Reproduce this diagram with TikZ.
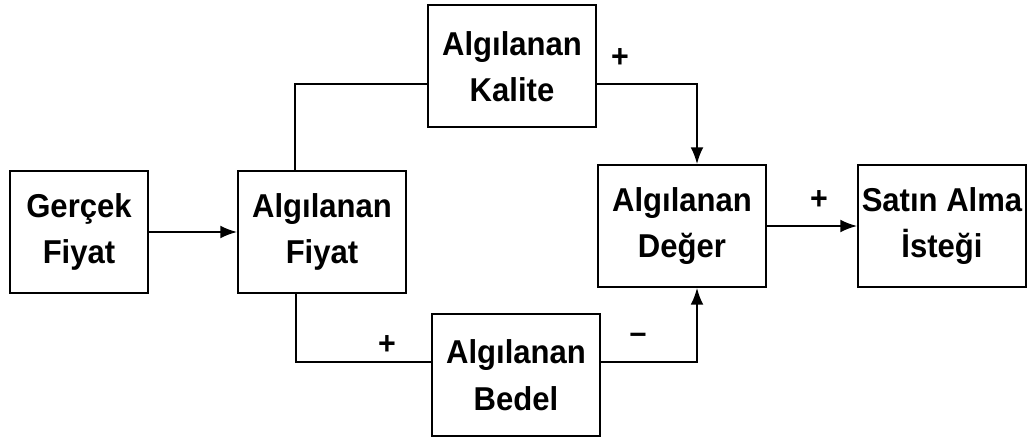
\documentclass[tikz,border=0pt]{standalone}
\usepackage{fontspec}
\setmainfont[FakeStretch=0.94]{Liberation Sans}
\usepackage{tikz}
\usetikzlibrary{arrows.meta}

\begin{document}
\begin{tikzpicture}[kutu/.style={rectangle, draw, line width=1.3pt, align=center, minimum height=3.05cm, inner sep=0pt, font=\bfseries\fontsize{23.5}{33}\selectfont},
                    isaret/.style={font=\bfseries\fontsize{23}{33}\selectfont},
                    ok/.style={-{Latex[length=0.42cm, width=0.32cm]}},
                    every path/.style={line width=1.3pt}]
                        \useasboundingbox (0, 0) rectangle (25.725, -11);
                        \node (gercek) at (1.975, -5.8) [kutu, minimum width=3.45cm] {Gerçek\\Fiyat};
                        \node (fiyat) at (8.05, -5.8) [kutu, minimum width=4.2cm] {Algılanan\\Fiyat};
                        \node (kalite) at (12.8, -1.66) [kutu, minimum width=4.2cm] {Algılanan\\Kalite};
                        \node (bedel) at (12.9, -9.375) [kutu, minimum width=4.2cm] {Algılanan\\Bedel};
                        \node (deger) at (17.05, -5.65) [kutu, minimum width=4.2cm] {Algılanan\\Değer};
                        \node (satin) at (23.55, -5.65) [kutu, minimum width=4.2cm] {Satın Alma\\İsteği};

                        \node (arti1) at (15.5, -1.45) [isaret] {+};
                        \node (arti2) at (20.475, -5.0) [isaret] {+};
                        \node (arti3) at (9.675, -8.625) [isaret] {+};
                        \node (eksi) at (15.95, -8.45) [isaret] {--};

                        \draw[ok] (gercek) -- (fiyat);
                        \draw ([xshift=-0.675cm]fiyat.north) |- ([yshift=-0.45cm]kalite.west);
                        \draw[ok] ([yshift=-0.45cm]kalite.east) -| ([xshift=0.375cm]deger.north);
                        \draw ([xshift=-0.65cm]fiyat.south) |- ([yshift=0.325cm]bedel.west);
                        \draw[ok] ([yshift=0.325cm]bedel.east) -| ([xshift=0.375cm]deger.south);
                        \draw[ok] (deger) -- (satin);
                    \end{tikzpicture}
\end{document}
